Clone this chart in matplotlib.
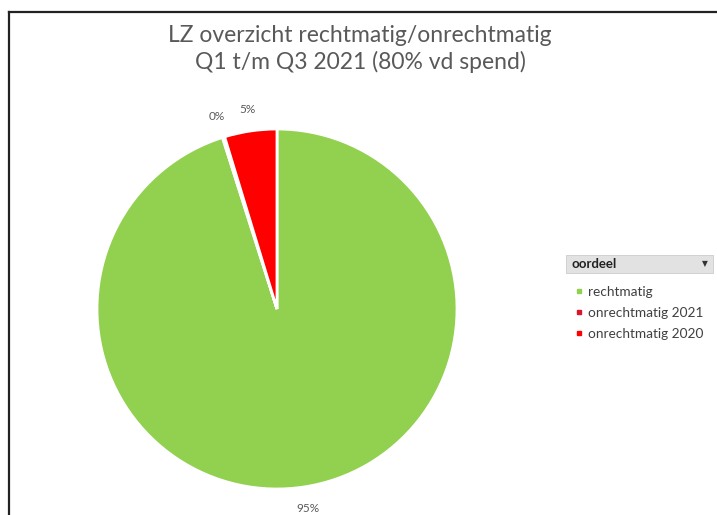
import matplotlib
matplotlib.use("Agg")
import matplotlib.pyplot as plt
from matplotlib.lines import Line2D
from matplotlib.patches import Rectangle

categories = ["rechtmatig", "onrechtmatig 2021", "onrechtmatig 2020"]
values = [95.1, 0.2, 4.7]
colors = ["#92D050", "#D9162B", "#FF0000"]
title_lines = ["LZ overzicht rechtmatig/onrechtmatig", "Q1 t/m Q3 2021 (80% vd spend)"]
legend_title = "oordeel"

W, H = 717, 515
fig = plt.figure(figsize=(W / 100, H / 100), dpi=100)
fig.patch.set_facecolor("white")
plt.rcParams["font.family"] = ["Lato", "DejaVu Sans"]

# border lines
fig.add_artist(Line2D([9 / W, 1.0], [1 - 12 / H, 1 - 12 / H], color="#222222", lw=1.6))
fig.add_artist(Line2D([9 / W, 9 / W], [0, 1 - 12 / H], color="#222222", lw=1.6))

# title
fig.text(360 / W, 1 - 35 / H, title_lines[0], ha="center", va="center", fontsize=16.5, color="#595959")
fig.text(360 / W, 1 - 62 / H, title_lines[1], ha="center", va="center", fontsize=16.5, color="#595959")

cx, cy, r = 277, 309, 180
ax = fig.add_axes([(cx - r) / W, (H - cy - r) / H, 2 * r / W, 2 * r / H])
wedges, texts, autotexts = ax.pie(
    values, colors=colors, startangle=90, counterclock=False,
    autopct="%.0f%%", pctdistance=1.12,
    wedgeprops=dict(edgecolor="white", linewidth=2),
    textprops=dict(fontsize=8.5, color="#595959"),
)
ax.set_xlim(-1, 1)
ax.set_ylim(-1, 1)
ax.set_aspect("auto")
ax.axis("off")
for t in autotexts:
    t.set_clip_on(False)

# legend header
fig.add_artist(Rectangle((566 / W, 1 - 273 / H), 147 / W, 18 / H, transform=fig.transFigure,
                         facecolor="#E2E2E2", edgecolor="#CCCCCC", lw=0.6))
fig.text(571 / W, 1 - 264.5 / H, legend_title, ha="left", va="center", fontsize=9.5,
         color="#222222", fontweight="bold")
fig.text(705 / W, 1 - 264 / H, "\u25BC", ha="center", va="center", fontsize=5.5,
         color="#333333", family="DejaVu Sans")

handles = [Line2D([], [], marker="s", linestyle="none", markersize=3.2,
                  markerfacecolor=c, markeredgecolor=c) for c in colors]
leg = fig.legend(handles, categories, loc="upper left",
                 bbox_to_anchor=(576 / W, 1 - 286 / H), frameon=False,
                 fontsize=9.8, handlelength=0.5, handletextpad=0.35,
                 labelspacing=0.66, borderpad=0, borderaxespad=0)
for t in leg.get_texts():
    t.set_color("#404040")

fig.savefig("out.png", dpi=100, facecolor="white")
